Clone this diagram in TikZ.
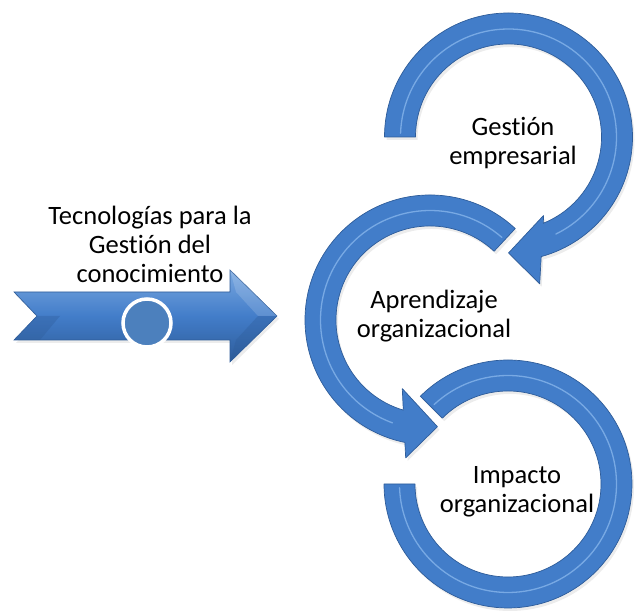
\documentclass[tikz,border=0pt]{standalone}
\usepackage{fontspec}
\setmainfont{Carlito}[Ligatures=NoCommon]
\usepackage{tikz}
\usetikzlibrary{shadows}
\definecolor{mblue}{rgb}{0.26, 0.49, 0.79}
\definecolor{mdark}{rgb}{0.18, 0.36, 0.60}
\definecolor{mlight}{rgb}{0.56, 0.74, 0.94}
\definecolor{mtop}{rgb}{0.48, 0.66, 0.88}
\definecolor{mdot}{rgb}{0.30, 0.50, 0.74}
\tikzset{ring/.style = {fill=mblue, draw=mdark, line width=0.7pt, line join=round,
                        drop shadow={opacity=0.15, shadow xshift=2pt, shadow yshift=-3pt}}}
\tikzset{ridge/.style = {mlight, opacity=0.7, line width=1.3pt, line cap=round}}
\tikzset{lbl/.style = {align=center, font=\fontsize{26.5}{29}\selectfont}}

\begin{document}
\begin{tikzpicture}[x=1pt, y=1pt]
    \useasboundingbox (0, 0) rectangle (635, 612);

    % left arrow
    \draw [draw=mdark, line width=0.6pt, top color=mtop, bottom color=mdark, middle color=mblue,
           drop shadow={opacity=0.15, shadow xshift=2pt, shadow yshift=-3pt}]
      (14, 320) -- (230, 320) -- (230, 342) -- (277, 296) -- (230, 250) -- (230, 272)
      -- (14, 272) -- (37, 296) -- cycle;
    \fill [mdark, opacity=0.35] (14, 272) -- (37, 296) -- (60, 296) -- (40, 272) -- cycle;
    \fill [mdark, opacity=0.35] (230, 250) -- (277, 296) -- (258, 296) -- (236, 272) -- cycle;
    \fill [white, opacity=0.15] (230, 342) -- (277, 296) -- (258, 296) -- (236, 320) -- cycle;
    \node [circle, fill=mdot, draw=white, line width=3.5pt, minimum size=48, inner sep=0pt]
      (dot) at (147, 289) {};
    \node [lbl] (tec) at (150, 368) {Tecnologías para la\\Gestión del\\conocimiento};

    % top
    \begin{scope}[shift={(508.5, 475)}]
      \draw [ring] (180:124) arc [start angle=180, end angle=-74.7, radius=124]
        -- (-78:150) -- (-90:116) -- (-66:86) -- (-68:93)
        arc [start angle=-68, end angle=180, radius=93] -- cycle;
      \draw [ridge] (178:108) arc [start angle=178, end angle=-64, radius=108];
    \end{scope}
    \node [lbl] (gest) at (513, 469) {Gestión\\empresarial};

    % middle
    \begin{scope}[shift={(430, 292)}]
      \draw [ring] (47:125) arc [start angle=47, end angle=258.4, radius=125]
        -- (260:140) -- (274:107) -- (248:74) -- (253.5:94)
        arc [start angle=253.5, end angle=47, radius=94] -- cycle;
      \draw [ridge] (49:109.5) arc [start angle=49, end angle=250, radius=109.5];
    \end{scope}
    \node [lbl] (apr) at (434, 296) {Aprendizaje\\organizacional};

    % bottom
    \begin{scope}[shift={(508, 128)}]
      \draw [ring] (135:124) arc [start angle=135, end angle=-180, radius=124]
        -- (180:93) arc [start angle=-180, end angle=135, radius=93] -- cycle;
      \draw [ridge] (133:108.5) arc [start angle=133, end angle=-178, radius=108.5];
    \end{scope}
    \node [lbl] (imp) at (517, 120) {Impacto\\organizacional};
\end{tikzpicture}
\end{document}
